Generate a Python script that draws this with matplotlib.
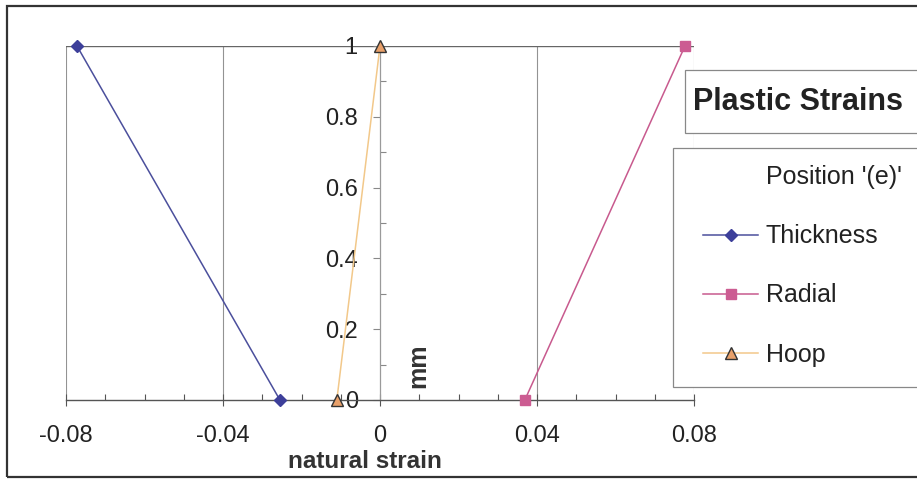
import matplotlib
matplotlib.use("Agg")
import matplotlib.pyplot as plt
from matplotlib.lines import Line2D
from matplotlib.patches import Rectangle
from matplotlib.ticker import MultipleLocator, FixedLocator, FuncFormatter

plt.rcParams['font.family'] = ['Liberation Sans', 'DejaVu Sans']

# Plastic strain profiles through the thickness at position (e)
depth_mm = [1, 0]
thickness_strain = [-0.0772, -0.0255]
radial_strain = [0.0777, 0.0369]
hoop_strain = [0.0, -0.011]

series_names = ["Thickness", "Radial", "Hoop"]
x_ticks = [-0.08, -0.04, 0, 0.04, 0.08]
x_tick_labels = ["-0.08", "-0.04", "0", "0.04", "0.08"]
y_ticks = [0, 0.2, 0.4, 0.6, 0.8, 1]

W, H = 917, 480
fig = plt.figure(figsize=(W / 100, H / 100), dpi=100)
fig.patch.set_facecolor("white")

def fx(px):
    return px / W

def fy(py):
    return 1 - py / H

ax = fig.add_axes([fx(66), fy(400), fx(694) - fx(66), fy(46) - fy(400)])
ax.set_xlim(-0.08, 0.08)
ax.set_ylim(0, 1)
ax.set_facecolor("none")

# axes cross at the origin
ax.spines['left'].set_position(('data', 0))
ax.spines['left'].set_color('#9a9a9a')
ax.spines['left'].set_linewidth(0.9)
ax.spines['bottom'].set_color('#555555')
ax.spines['bottom'].set_linewidth(1.0)
ax.spines['top'].set_visible(False)
ax.spines['right'].set_visible(False)

ax.xaxis.set_major_locator(FixedLocator(x_ticks))
ax.xaxis.set_minor_locator(MultipleLocator(0.01))
ax.set_xticklabels(x_tick_labels)
ax.yaxis.set_major_locator(FixedLocator(y_ticks))
ax.yaxis.set_minor_locator(MultipleLocator(0.1))
ax.yaxis.set_major_formatter(FuncFormatter(lambda v, p: f"{v:g}"))

ax.tick_params(axis='x', which='major', direction='inout', length=8, width=0.8,
               color='#555555', labelsize=17, labelcolor='#222222', pad=14)
ax.tick_params(axis='x', which='minor', direction='in', length=4, width=0.8,
               color='#555555')
ax.tick_params(axis='y', which='major', direction='out', length=5, width=0.8,
               color='#888888', labelsize=17, labelcolor='#222222', pad=11)
ax.tick_params(axis='y', which='minor', direction='in', length=4, width=0.8,
               color='#888888')

# vertical gridlines at the major strain values and the top boundary line
for xv in x_ticks:
    if xv != 0:
        ax.axvline(xv, color='#939393', lw=0.8, zorder=0)
ax.axhline(1, color='#666666', lw=1.0, zorder=0)

ax.plot(thickness_strain, depth_mm, color='#4b4f9c', lw=1.1, marker='D',
        ms=6.5, mfc='#3d3f9a', mec='#3d3f9a', clip_on=False, zorder=3,
        label=series_names[0])
ax.plot(radial_strain, depth_mm, color='#c85a8e', lw=1.1, marker='s',
        ms=7.5, mfc='#cc5c92', mec='#cc5c92', clip_on=False, zorder=3,
        label=series_names[1])
ax.plot(hoop_strain, depth_mm, color='#f2c88a', lw=1.1, marker='^',
        ms=9, mfc='#e8a06a', mec='#333333', mew=1.0, clip_on=False, zorder=3,
        label=series_names[2])

# axis titles
fig.text(fx(365), fy(461), "natural strain", fontsize=17.5, fontweight='bold',
         color='#333333', ha='center', va='center')
fig.text(fx(418), fy(366), "mm", fontsize=18, fontweight='bold',
         color='#333333', ha='center', va='center', rotation=90)

# chart title box
fig.patches.append(Rectangle((fx(685), fy(133)), fx(960) - fx(685), fy(70) - fy(133),
                             transform=fig.transFigure, fill=True, facecolor='white',
                             edgecolor='#888888', lw=0.9, zorder=5))
fig.text(fx(693), fy(102), "Plastic Strains", fontsize=22, fontweight='bold',
         color='#222222', ha='left', va='center', zorder=6)

# legend box
fig.patches.append(Rectangle((fx(673), fy(387)), fx(960) - fx(673), fy(148) - fy(387),
                             transform=fig.transFigure, fill=True, facecolor='white',
                             edgecolor='#888888', lw=0.9, zorder=5))
handles, labels = ax.get_legend_handles_labels()
blank = Line2D([], [], lw=0, alpha=0)
leg = fig.legend([blank] + handles, ["Position '(e)'"] + labels,
                 loc='upper left', bbox_to_anchor=(fx(703), fy(165)),
                 frameon=False, fontsize=18, handlelength=2.2,
                 handletextpad=0.32, labelspacing=1.41, borderpad=0,
                 borderaxespad=0, markerscale=1.0)
leg.set_zorder(7)
for t in leg.get_texts():
    t.set_color('#222222')

# outer chart border
fig.patches.append(Rectangle((fx(7), fy(477)), fx(960) - fx(7), fy(6) - fy(477),
                             transform=fig.transFigure, fill=False,
                             edgecolor='#333333', lw=1.6, zorder=8))

fig.savefig("out.png", dpi=100)
